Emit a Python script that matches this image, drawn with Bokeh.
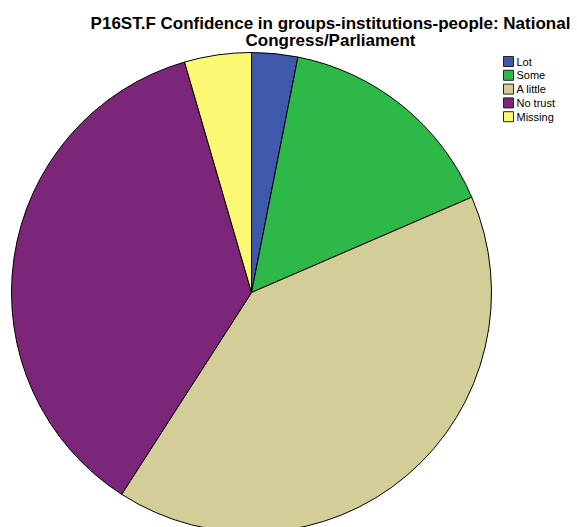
import math
from bokeh.plotting import figure
from bokeh.models import Range1d, ColumnDataSource
from bokeh.core.properties import value
from bokeh.embed import file_html
from bokeh.resources import INLINE

categories = ["Lot", "Some", "A little", "No trust", "Missing"]
percents = [3.1, 15.4, 40.6, 36.4, 4.5]
colors = ["#3e58ac", "#2eb848", "#d3ce97", "#7b2678", "#fbf873"]
title_lines = ["P16ST.F Confidence in groups-institutions-people: National",
               "Congress/Parliament"]

W, H = 577, 527
p = figure(width=W, height=H, output_backend="svg", toolbar_location=None,
           x_range=Range1d(0, W), y_range=Range1d(0, H),
           min_border=0, outline_line_color=None)
p.axis.visible = False
p.grid.visible = False
p.background_fill_color = "white"
p.border_fill_color = "white"

total = sum(percents)
starts, ends = [], []
acc = 0.0
for v in percents:
    a0 = math.pi / 2 - 2 * math.pi * acc / total
    acc += v
    a1 = math.pi / 2 - 2 * math.pi * acc / total
    starts.append(a0)
    ends.append(a1)

cx, cy, r = 251, H - 292, 240
src = ColumnDataSource(dict(cat=categories, start=starts, end=ends, color=colors))
p.wedge(x=cx, y=cy, radius=r, start_angle="start", end_angle="end",
        direction="clock", fill_color="color", line_color="black",
        line_width=1, source=src)

# title
p.text(x=[330, 330], y=[H - 23, H - 39.5], text=title_lines,
       text_font=value("Liberation Sans"), text_font_style="bold",
       text_font_size="17px", text_align="center", text_baseline="alphabetic",
       text_color="black")

# legend
ly = [H - (61 + 13.8 * i) for i in range(len(categories))]
p.rect(x=[508] * len(categories), y=ly, width=10, height=10,
       fill_color=colors, line_color="#222222", line_width=1)
p.text(x=[516] * len(categories), y=ly, text=categories,
       text_font=value("Liberation Sans"), text_font_size="11px",
       text_align="left", text_baseline="middle", text_color="black")

open("out.html", "w").write(file_html(p, INLINE))
